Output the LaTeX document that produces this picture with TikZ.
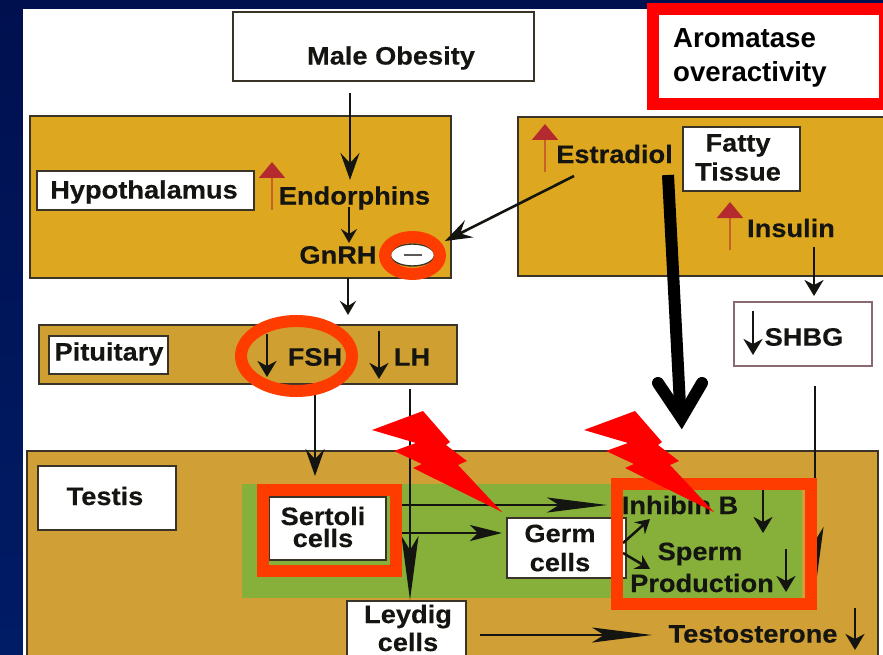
\documentclass[tikz,border=0pt]{standalone}
\usepackage{fontspec}
\setmainfont{Liberation Sans}
\newfontfamily\widefont[FakeStretch=1.08,FakeBold=0.3]{Liberation Sans Bold}
\usetikzlibrary{arrows.meta,shapes.geometric}
\definecolor{navytop}{HTML}{00104F}
\definecolor{navybot}{HTML}{001C66}
\definecolor{panelA}{HTML}{DDA81F}
\definecolor{panelB}{HTML}{CF9F32}
\definecolor{panelC}{HTML}{D09F35}
\definecolor{greenbg}{HTML}{86B03A}
\definecolor{ringorange}{HTML}{FF3C00}
\definecolor{uphead}{HTML}{B42A2E}
\definecolor{upshaft}{HTML}{C8602A}
\definecolor{ink}{HTML}{141410}
\definecolor{edge}{HTML}{3A3428}
\definecolor{shbgedge}{HTML}{8A6A70}
\tikzset{
  x=1pt,y=-1pt,
  txt/.style={font=\widefont\fontsize{25.2}{29}\selectfont,text=ink,inner sep=0pt,align=center},
  panel/.style={draw=edge,line width=1.6pt,inner sep=0pt},
  whitebox/.style={draw=edge,line width=1.6pt,fill=white,inner sep=0pt,font=\widefont\fontsize{25.2}{29}\selectfont,text=ink,align=center},
  ring/.style={draw=ringorange,line width=12pt,ellipse,inner sep=0pt,fill=none},
  frameO/.style={draw=ringorange,line width=12pt,inner sep=0pt,fill=none},
  arrL/.style={draw=ink,line width=2.6pt,-{Stealth[length=27pt,width=19pt,inset=10pt]}},
  arrS/.style={draw=ink,line width=2.5pt,-{Stealth[length=14pt,width=16pt,inset=5pt]}},
  arrM/.style={draw=ink,line width=2.6pt,-{Stealth[length=16pt,width=19pt,inset=5pt]}},
  arrX/.style={draw=ink,line width=2.6pt,-{Stealth[length=32pt,width=16pt,inset=8pt]}},
  arrH/.style={draw=ink,line width=2.6pt,-{Stealth[length=64pt,width=17pt,inset=14pt]}},
  arrW/.style={draw=ink,line width=2.6pt,-{Stealth[length=60pt,width=15pt,inset=12pt]}},
  uparr/.style={draw=upshaft,line width=2pt,-{Triangle[length=16pt,width=26pt,fill=uphead,color=uphead]}},
  bolt/.pic={\fill[red] (372,430) -- (423,411) -- (450,442) -- (446,445) -- (467,461) -- (458,465)
     -- (502,512) -- (413,468) -- (422,464) -- (394,451) -- (416,443) -- cycle;}
}
\begin{document}
\begin{tikzpicture}
\useasboundingbox (0,0) rectangle (883,655);
\clip (0,0) rectangle (883,655);
% slide background
\fill[navytop] (0,0) rectangle (883,9);
\shade[top color=navytop,bottom color=navybot] (0,0) rectangle (23,655);
\fill[white] (23,9) rectangle (883,655);

% panels
\node[panel,fill=panelA,minimum width=421pt,minimum height=162pt] (hypoPanel) at (240.5,197) {};
\node[panel,fill=panelA,minimum width=380pt,minimum height=159pt,anchor=north west] (fatPanel) at (517,116) {};
\node[panel,fill=panelB,minimum width=418pt,minimum height=59pt] (pitPanel) at (248,354.5) {};
\node[panel,fill=panelC,minimum width=851pt,minimum height=240pt,anchor=north west] (testPanel) at (26,450) {};
\node[fill=greenbg,draw=none,minimum width=560pt,minimum height=114pt,inner sep=0pt,anchor=north west] (greenPanel) at (242,484) {};

% boxes
\node[whitebox,minimum width=301pt,minimum height=69pt] (obesity) at (383.5,46.5) {};
\node[txt] (obesityT) at (391,58) {Male Obesity};
\node[whitebox,minimum width=217pt,minimum height=39pt] (hypo) at (145.5,190.5) {};
\node[txt] (hypoT) at (144,192) {Hypothalamus};
\node[whitebox,minimum width=119pt,minimum height=38pt] (pit) at (108.5,355) {};
\node[txt] (pitT) at (109,354) {Pituitary};
\node[whitebox,minimum width=117pt,minimum height=64pt] (fatty) at (741.5,159) {};
\node[txt] (fattyT) at (738,157.5) {Fatty\\Tissue};
\node[whitebox,draw=shbgedge,minimum width=138pt,minimum height=64pt] (shbg) at (803,334) {};
\node[whitebox,minimum width=138pt,minimum height=64pt] (testis) at (107,498) {};
\node[txt] (testisT) at (105,496) {Testis};
\node[whitebox,minimum width=117pt,minimum height=63pt] (sertoli) at (327.5,528.5) {};
\node[txt,font=\widefont\fontsize{25.2}{22}\selectfont] (sertoliT) at (323,527) {Sertoli\\cells};
\node[whitebox,minimum width=119pt,minimum height=60pt] (germ) at (566.5,548) {};
\node[txt,anchor=center] (germT) at (560,548) {Germ\\cells};
\node[whitebox,minimum width=119pt,minimum height=60pt] (leydig) at (406.5,631) {};
\node[txt,font=\widefont\fontsize{25.2}{28}\selectfont] (leydigT) at (408,628) {Leydig\\cells};

% labels
\node[txt] (endorphins) at (354.5,198) {Endorphins};
\node[txt] (gnrh) at (338,255) {GnRH};
\node[txt] (fsh) at (315,357) {FSH};
\node[txt] (lh) at (412,357) {LH};
\node[txt] (estradiol) at (614.5,154) {Estradiol};
\node[txt] (insulin) at (791,228) {Insulin};
\node[txt] (shbgT) at (804,337) {SHBG};
\node[txt] (inhibin) at (680,505) {Inhibin B};
\node[txt] (sperm) at (700,554) {Sperm};
\node[txt] (production) at (702,583) {Production};
\node[txt] (testosterone) at (753,634) {Testosterone};

% connector end points
\foreach \n/\x/\y in {
  a1/350/93, a2/350/180, b1/349/207, b2/349/243, c1/348/278, c2/348/315,
  d1/267/334, d2/267/377, e1/379/331, e2/379/379, f1/315/390, f2/315/476,
  g1/410/389, g2/410/600, h1/574/176, h2/445/241, i1/814/247, i2/814/296,
  j1/753/311, j2/753/355, k1/815/386, k2/815/591, l1/402/505, l2/607/505,
  m1/402/533, m2/502/533, n1/763/490, n2/763/533, o1/623/543, o2/650/519,
  p1/623/553, p2/650/569, q1/786/549, q2/786/592, r1/855/608, r2/855/650,
  s1/480/635, s2/652/635, u1/272/210, u2/272/162, v1/545/172, v2/545/124,
  w1/730/250, w2/730/202, B1/668/175, B2/680.5/415, Bl/658/383, Bt/681.5/418, Br/702/383}
  {\coordinate (\n) at (\x,\y);}

% lines running under the frames
\draw[arrH] (k1) -- (k2);

% connectors
\draw[arrL] (a1) -- (a2);
\draw[arrS] (b1) -- (b2);
\draw[arrS] (c1) -- (c2);
\draw[arrL] (f1) -- (f2);
\draw[arrH] (g1) -- (g2);
\draw[arrM] (d1) -- (d2);
\draw[arrM] (e1) -- (e2);
\draw[arrL] (h1) -- (h2);
\draw[arrM] (i1) -- (i2);
\draw[arrM] (j1) -- (j2);
\draw[arrW] (l1) -- (l2);
\draw[arrX] (m1) -- (m2);
\draw[arrM] (n1) -- (n2);
\draw[arrS] (o1) -- (o2);
\draw[arrS] (p1) -- (p2);
\draw[arrM] (q1) -- (q2);
\draw[arrM] (r1) -- (r2);
\draw[arrW] (s1) -- (s2);
\draw[uparr] (u1) -- (u2);
\draw[uparr] (v1) -- (v2);
\draw[uparr] (w1) -- (w2);

% oval and minus
\node[ellipse,draw=edge,line width=1.4pt,fill=white,minimum width=44pt,minimum height=22pt,inner sep=0pt] (oval) at (412.5,255) {};
\draw[gray!70!black,line width=1.6pt] ([xshift=-9pt]oval.center) -- ([xshift=9pt]oval.center);

% highlight rings and frames
\node[ring,minimum width=55pt,minimum height=37pt] (ringA) at (412.5,255.5) {};
\node[ring,minimum width=111pt,minimum height=70pt] (ringB) at (296.5,356) {};
\node[frameO,minimum width=133pt,minimum height=81pt] (frameS) at (329.5,530.5) {};
\node[frameO,minimum width=194pt,minimum height=120pt] (frameI) at (714,544) {};
\node[draw=red,line width=12pt,fill=white,minimum width=232pt,minimum height=95pt,inner sep=0pt] (aroma) at (769,56.5) {};
\node[font=\bfseries\fontsize{27.6}{34}\selectfont,text=black,align=left,anchor=west,inner sep=0pt] (aromaT) at (673,58) {Aromatase\\overactivity};

% heavy black arrow
\draw[line width=12pt,black] (B1) -- (B2);
\draw[line width=12pt,black,miter limit=10,line cap=round] (Bl) -- (Bt) -- (Br);

% lightning bolts
\pic at (0,0) {bolt};
\pic at (212,0) {bolt};
\end{tikzpicture}
\end{document}
